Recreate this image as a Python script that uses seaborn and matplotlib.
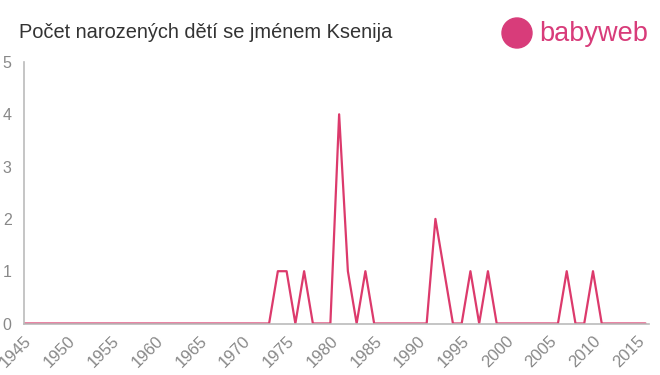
import matplotlib
matplotlib.use("Agg")
import matplotlib.pyplot as plt
from matplotlib.patches import Ellipse
import seaborn as sns
import pandas as pd

years = list(range(1945, 2017))
nonzero = {1974: 1, 1975: 1, 1977: 1, 1981: 4, 1982: 1, 1984: 1,
           1992: 2, 1993: 1, 1996: 1, 1998: 1, 2007: 1, 2010: 1}
counts = [nonzero.get(y, 0) for y in years]
x_ticks = list(range(1945, 2016, 5))
y_ticks = [0, 1, 2, 3, 4, 5]
title = "Počet narozených dětí se jménem Ksenija"

df = pd.DataFrame({"year": years, "count": counts})

sns.set_style("white")
plt.rcParams['font.family'] = ['Liberation Sans', 'DejaVu Sans']

W, H = 660, 375
fig = plt.figure(figsize=(6.6, 3.75), dpi=100)
ax = fig.add_axes([24 / W, 1 - 323.5 / H, (649 - 24) / W, (323.5 - 62) / H])

sns.lineplot(data=df, x="year", y="count", ax=ax, color="#dc3a6c", linewidth=1.6)

ax.set_xlim(1945, 2016.4)
ax.set_ylim(0, 5)
ax.set_xticks(x_ticks)
ax.set_xticklabels([str(t) for t in x_ticks], rotation=45, ha="right",
                   rotation_mode="anchor", color="#888888", fontsize=12)
ax.set_yticks(y_ticks)
ax.set_yticklabels([str(t) for t in y_ticks], color="#888888", fontsize=11.5)
ax.set_xlabel("")
ax.set_ylabel("")
for s in ["top", "right"]:
    ax.spines[s].set_visible(False)
for s in ["left", "bottom"]:
    ax.spines[s].set_color("#bbbbbb")
    ax.spines[s].set_linewidth(1.2)
ax.tick_params(axis="both", length=5, width=1, color="#bbbbbb", direction="out")
ax.tick_params(axis="x", pad=2)
ax.tick_params(axis="y", pad=4)

fig.text(19 / W, 1 - 33 / H, title, fontsize=14.4, color="#333333", va="center", ha="left")
fig.text(539 / W, 1 - 34 / H, "babyweb", fontsize=19.5, color="#d83c7a",
         va="center", ha="left")
fig.add_artist(Ellipse((517 / W, 1 - 33 / H), 30 / W, 30 / H,
                       transform=fig.transFigure, color="#d83c7a"))

fig.savefig("out.png", dpi=100)
